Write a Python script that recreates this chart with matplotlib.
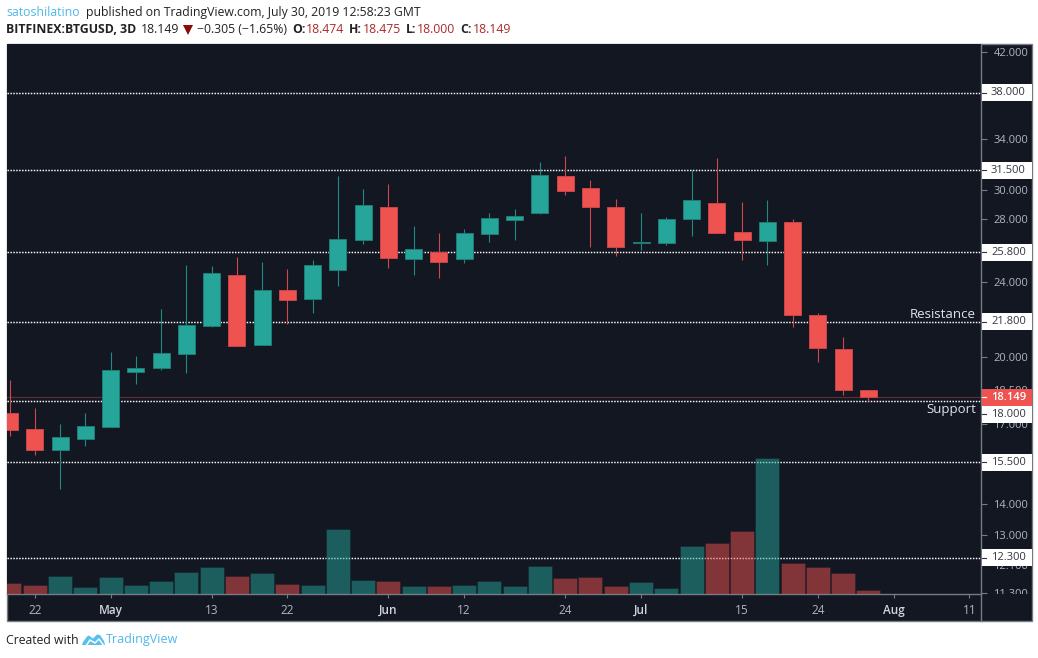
import matplotlib
matplotlib.use('Agg')
import matplotlib.pyplot as plt
import matplotlib.dates as mdates
import pandas as pd
from matplotlib.patches import Rectangle, Polygon
from matplotlib.lines import Line2D
from matplotlib.ticker import FixedLocator, FixedFormatter, NullLocator
from matplotlib.transforms import Bbox, IdentityTransform, TransformedBbox

plt.rcParams['font.family'] = ['Open Sans', 'DejaVu Sans']

# BTGUSD 3D candles
bar_dates = pd.date_range('2019-04-19', periods=35, freq='3D')
opens = [17.49, 16.82, 15.96, 16.42, 16.91, 19.32, 19.47, 20.19, 21.60, 24.43, 20.62, 23.57,
         23.06, 24.75, 26.62, 28.81, 25.42, 25.84, 25.42, 27.01, 27.92, 28.42, 31.06, 30.17,
         28.81, 26.41, 26.41, 27.96, 29.10, 27.12, 26.55, 27.79, 22.18, 20.42, 18.474]
highs = [18.94, 17.70, 17.03, 17.49, 20.28, 20.08, 22.51, 25.03, 24.97, 25.52, 25.22, 24.81,
         25.36, 31.09, 30.10, 30.42, 27.52, 27.05, 27.34, 28.40, 28.67, 32.14, 32.61, 30.77,
         29.38, 28.40, 28.12, 31.54, 32.40, 29.19, 29.33, 27.96, 22.29, 21.03, 18.475]
lows = [16.51, 15.77, 14.52, 16.15, 16.91, 18.77, 19.41, 19.24, 21.55, 20.57, 20.62, 21.67,
        22.25, 23.76, 26.36, 24.87, 24.45, 24.22, 25.17, 26.49, 26.62, 28.35, 29.69, 26.11,
        25.60, 25.98, 26.29, 26.88, 27.05, 25.30, 25.04, 21.55, 19.76, 18.24, 18.000]
closes = [16.78, 15.96, 16.50, 16.94, 19.41, 19.50, 20.23, 21.65, 24.55, 20.57, 23.57, 23.00,
          25.03, 26.66, 28.91, 25.48, 26.02, 25.23, 27.05, 28.06, 28.19, 31.14, 29.98, 28.77,
          26.17, 26.49, 27.99, 29.31, 27.07, 26.62, 27.79, 22.14, 20.44, 18.46, 18.149]
volumes = [11, 9, 18, 7, 17, 9, 13, 22, 27, 18, 21, 10,
           9, 65, 14, 13, 8, 8, 9, 13, 8, 28, 16, 17,
           8, 12, 6, 48, 51, 63, 136, 31, 27, 21, 4]

level_prices = [38.0, 31.5, 25.8, 21.8, 18.0, 15.5, 12.3]
price_ticks = [42, 34, 30, 28, 24, 20, 18.5, 17, 14, 13, 12.1, 11.3]
date_ticks = ['2019-04-22', '2019-05-01', '2019-05-13', '2019-05-22', '2019-06-03', '2019-06-12',
              '2019-06-24', '2019-07-03', '2019-07-15', '2019-07-24', '2019-08-02', '2019-08-11']
date_labels = ['22', 'May', '13', '22', 'Jun', '12', '24', 'Jul', '15', '24', 'Aug', '11']
last_price = 18.149

W, H = 1038, 658
BG = '#131722'
FRAME = '#787b86'
UP = '#26a69a'
DOWN = '#ef5350'
BLUE = '#4fb9ea'
DARK = '#222222'
RED_TXT = '#a92a2a'

fig = plt.figure(figsize=(W / 100, H / 100), dpi=100, facecolor='white')


def fx(x):
    return x / W


def fy(y):
    return 1 - y / H


def rect_px(x0, y0, x1, y1, **kw):
    fig.add_artist(Rectangle((fx(x0), fy(y1)), (x1 - x0) / W, (y1 - y0) / H,
                             transform=fig.transFigure, **kw))


# panel behind everything
rect_px(6.5, 43.5, 1031.5, 620.5, facecolor=BG, edgecolor=FRAME, linewidth=1, zorder=-1)

ax = fig.add_axes([fx(6.5), fy(594), (981 - 6.5) / W, (594 - 44) / H], facecolor=BG)
vol_ax = fig.add_axes(ax.get_position(), facecolor='none')

x = mdates.date2num(bar_dates)
day_per_px = 3 / 25.26
xlim = (x[0] - 3 * day_per_px, x[0] + (981 - 9.5) * day_per_px)

ax.set_yscale('log')
ax.set_xlim(xlim)
ax.set_ylim(11.267, 42.771)

# horizontal levels
for p in level_prices:
    ax.axhline(p, color='white', linewidth=1.05, linestyle=(0, (1, 1)), zorder=1)
ax.axhline(last_price, color=DOWN, linewidth=0.9, alpha=0.35, zorder=1)

# candles
colors = [UP if c >= o else DOWN for o, c in zip(opens, closes)]
edges = ['#1c7c74' if c >= o else '#c9444a' for o, c in zip(opens, closes)]
wicks = ['#1f8a81' if c >= o else '#d0484c' for o, c in zip(opens, closes)]
ax.vlines(x, lows, highs, colors=wicks, linewidth=0.8, zorder=3)
ax.bar(x, [abs(c - o) for o, c in zip(opens, closes)], bottom=[min(o, c) for o, c in zip(opens, closes)],
       width=17 * day_per_px, color=colors, edgecolor=edges, linewidth=0.7, zorder=4)

# volume pane
vol_ax.bar(x, volumes, width=24 * day_per_px, color=colors, alpha=0.5,
           edgecolor='#131722', linewidth=0.5)
vol_ax.set_xlim(xlim)
vol_ax.set_ylim(0, 550)
vol_ax.axis('off')

# axes
for name, spine in ax.spines.items():
    spine.set_color(FRAME)
    spine.set_linewidth(1)
ax.spines['top'].set_visible(False)
ax.spines['left'].set_visible(False)

ax.yaxis.tick_right()
ax.yaxis.set_major_locator(FixedLocator(price_ticks))
ax.yaxis.set_major_formatter(FixedFormatter(['%.3f' % p for p in price_ticks]))
ax.yaxis.set_minor_locator(NullLocator())
ax.tick_params(axis='y', which='major', length=4, width=0.8, color=FRAME, labelcolor='#b2b5be',
               labelsize=8, pad=5)

ax.set_xticks(mdates.date2num(pd.to_datetime(date_ticks)))
ax.set_xticklabels(date_labels)
ax.tick_params(axis='x', length=3, width=0.8, color=FRAME, labelcolor='#b2b5be', labelsize=8.5, pad=4)
for t in ax.get_xticklabels():
    if t.get_text() in ('May', 'Jun', 'Jul', 'Aug'):
        t.set_color('#d1d4dc')
        t.set_fontweight('semibold')

# labels stop at the edge of the price pane, 11.300 is cut in half
clip = TransformedBbox(Bbox([[981, H - 594], [1032, H - 44]]), IdentityTransform())
for t in ax.get_yticklabels():
    t.set_clip_box(clip)
    t.set_clip_on(True)

fig.add_artist(Line2D([fx(981.3)] * 2, [fy(594), fy(621)], color=FRAME, linewidth=1,
                      transform=fig.transFigure))

# level names
fig.text(fx(976), fy(314), 'Resistance', color='#e0e3eb', fontsize=9.5, ha='right', va='center')
fig.text(fx(976), fy(409), 'Support', color='#e0e3eb', fontsize=9.5, ha='right', va='center')


def price_tag(price, shift_px, face, fg, weight='normal'):
    yc = H - ax.transData.transform((x[0], price))[1] + shift_px
    rect_px(981.5, yc - 8.5, 1032, yc + 8.5, facecolor=face, edgecolor='none', zorder=5)
    fig.add_artist(Line2D([fx(981.5), fx(986)], [fy(yc)] * 2, color=fg, linewidth=0.8,
                          transform=fig.transFigure, zorder=6))
    fig.text(fx(991), fy(yc), '%.3f' % price, color=fg, fontsize=8, ha='left', va='center',
             fontweight=weight, zorder=6)


fig.canvas.draw()
for p in level_prices:
    price_tag(p, 13.5 if p == 18.0 else 0, 'white', '#333640')
price_tag(last_price, 0, DOWN, 'white', 'semibold')

# header
fig.text(fx(6), fy(12.5), 'satoshilatino', color=BLUE, fontsize=8.8, va='center')
fig.text(fx(86), fy(12.5), 'published on TradingView.com, July 30, 2019 12:58:23 GMT', color=DARK,
         fontsize=8.8, va='center')
fig.text(fx(6), fy(29.5), 'BITFINEX:BTGUSD, 3D', color=DARK, fontsize=8.8, fontweight='bold', va='center')
fig.text(fx(141), fy(29.5), '18.149', color=DARK, fontsize=8.8, va='center')
fig.add_artist(Polygon([(fx(183), fy(25)), (fx(193), fy(25)), (fx(188), fy(35))], closed=True,
                       facecolor='#8c0a0a', edgecolor='none', transform=fig.transFigure))
fig.text(fx(197), fy(29.5), '\u22120.305 (\u22121.65%)', color=DARK, fontsize=8.8, va='center')
for lx, vx, name, value in [(292, 306, 'O:', '18.474'), (349, 363, 'H:', '18.475'),
                            (406, 417, 'L:', '18.000'), (460, 473, 'C:', '18.149')]:
    fig.text(fx(lx), fy(29.5), name, color=DARK, fontsize=8.8, fontweight='bold', va='center')
    fig.text(fx(vx), fy(29.5), value, color=RED_TXT, fontsize=8.8, va='center')

# footer with logo
fig.text(fx(6), fy(640), 'Created with', color=DARK, fontsize=8.8, va='center')
cloud = [(82, 645), (83, 642), (87, 636.5), (89, 635.5), (93, 638.5), (97, 634.5), (100, 635),
         (104, 641), (105, 645)]
fig.add_artist(Polygon([(fx(a), fy(b)) for a, b in cloud], closed=True, facecolor='#56c1ed',
                       edgecolor='none', transform=fig.transFigure))
zig = [(86, 646), (90, 640), (95, 643), (99, 639), (104, 646)]
fig.add_artist(Line2D([fx(a) for a, b in zig], [fy(b) for a, b in zig], color='white', linewidth=1.1,
                      transform=fig.transFigure))
fig.text(fx(106), fy(640), 'TradingView', color=BLUE, fontsize=9, va='center')

fig.savefig('out.png', dpi=100, facecolor='white')
